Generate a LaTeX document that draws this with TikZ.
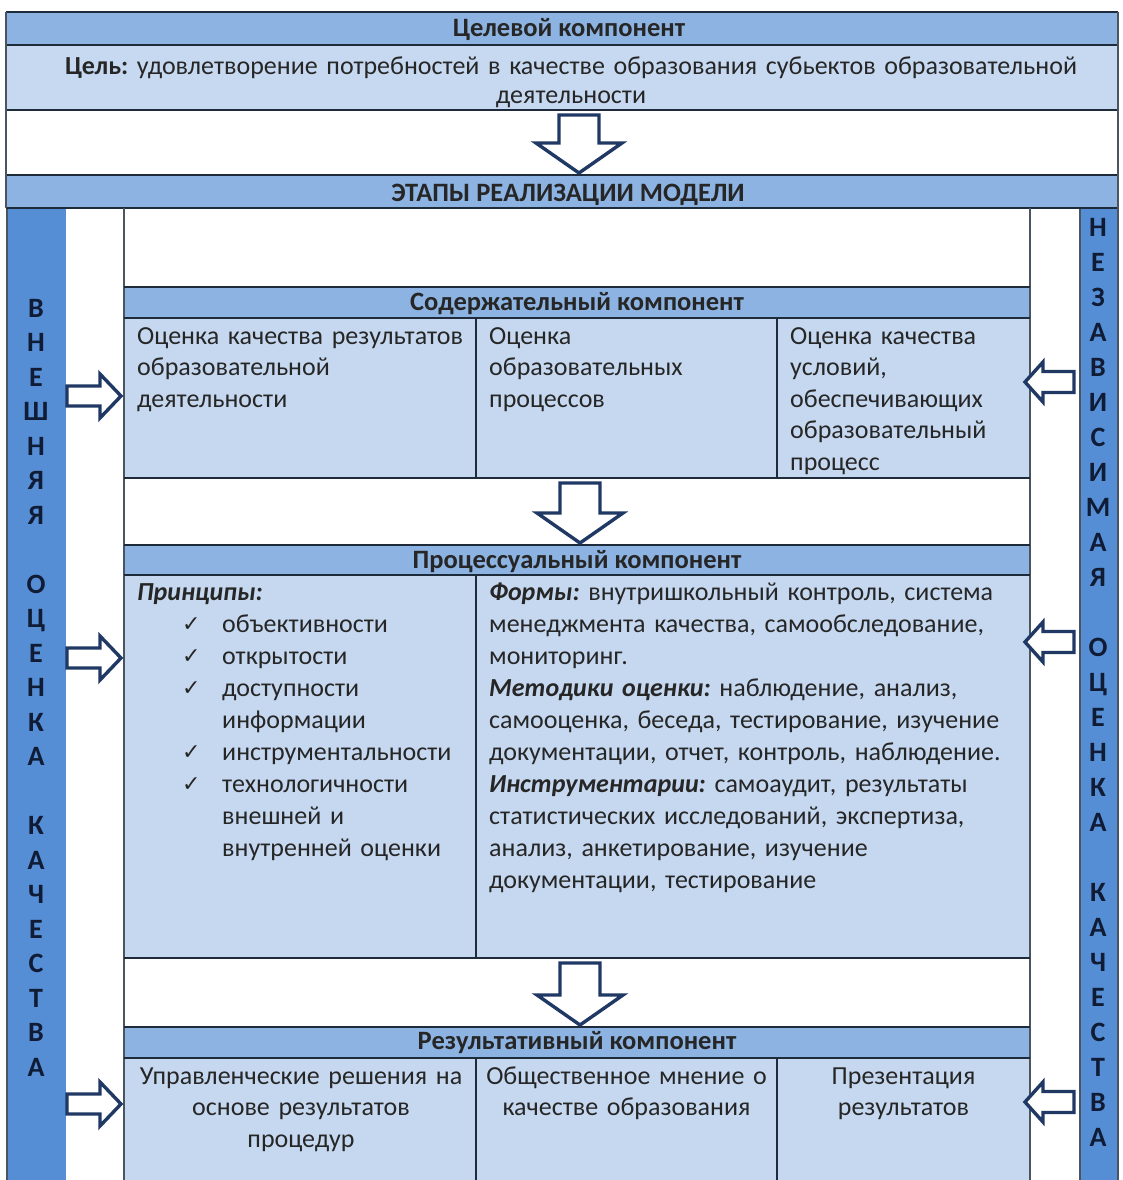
\documentclass[tikz,border=0pt]{standalone}
\usepackage{fontspec}
\setmainfont{Carlito}
\newfontfamily\checkfont{DejaVu Sans}
\frenchspacing
\definecolor{hdrblue}{HTML}{8DB3E2}
\definecolor{bandlight}{HTML}{C6D9F1}
\definecolor{cellblue}{HTML}{C5D8F0}
\definecolor{barblue}{HTML}{558ED5}
\definecolor{linecol}{HTML}{1E2B3A}
\definecolor{arrowcol}{HTML}{1F3864}
\definecolor{txtcol}{HTML}{262626}
\definecolor{bartxt}{HTML}{101C35}
\newcommand\blkdown[3]{\draw[blockarrow] (#1-20,#2) -- (#1+20,#2) -- (#1+20,#3-30) -- (#1+43,#3-30) -- (#1,#3) -- (#1-43,#3-30) -- (#1-20,#3-30) -- cycle;}
\newcommand\blkright[3]{\draw[blockarrow] (#1,#3-10) -- (#2-21,#3-10) -- (#2-21,#3-22) -- (#2,#3) -- (#2-21,#3+22) -- (#2-21,#3+10) -- (#1,#3+10) -- cycle;}
\newcommand\blkleft[3]{\draw[blockarrow] (#2,#3-10.5) -- (#1+18,#3-10.5) -- (#1+18,#3-20) -- (#1,#3) -- (#1+18,#3+20) -- (#1+18,#3+10.5) -- (#2,#3+10.5) -- cycle;}
\begin{document}
\begin{tikzpicture}[x=1pt,y=-1pt,
  rule/.style={draw=linecol, line width=1.6pt},
  vrule/.style={draw=linecol!80!white, line width=1.6pt},
  blockarrow/.style={draw=arrowcol, fill=white, line width=3.4pt, line join=miter},
  txt/.style={inner sep=0pt, text=txtcol, font=\fontsize{26}{31.5}\selectfont},
  hdrtxt/.style={inner sep=0pt, text=txtcol, font=\fontsize{26.5}{29}\selectfont\bfseries},
  bartext/.style={inner sep=0pt, text=bartxt, text width=40pt, align=center, font=\fontsize{28}{34.5}\selectfont\bfseries},
  chk/.style={inner sep=0pt, text=txtcol, font=\fontsize{22}{24}\selectfont\checkfont}]
\useasboundingbox (0,0) rectangle (1123,1180);
\fill[white] (0,0) rectangle (1123,1180);
% ---- top bands
\fill[hdrblue] (6,12) rectangle (1118,45);
\fill[bandlight] (6,45) rectangle (1118,110);
\fill[hdrblue] (6,175) rectangle (1118,208);
% ---- side bars
\fill[barblue] (7,208) rectangle (66,1180);
\fill[barblue] (1080,208) rectangle (1118,1180);
\draw[vrule] (7,208) -- (7,1180);
\draw[vrule] (1080,208) -- (1080,1180);
% ---- inner panels
\fill[hdrblue] (124,287) rectangle (1030,318);
\fill[cellblue] (124,318) rectangle (1030,478);
\fill[hdrblue] (124,545) rectangle (1030,575);
\fill[cellblue] (124,575) rectangle (1030,958);
\fill[hdrblue] (124,1027) rectangle (1030,1058);
\fill[cellblue] (124,1058) rectangle (1030,1180);
% ---- rules
\draw[rule] (6,12) -- (1118,12);
\draw[rule] (6,45) -- (1118,45);
\draw[rule] (6,110) -- (1118,110);
\draw[rule] (6,175) -- (1118,175);
\draw[rule] (6,208) -- (1118,208);
\draw[vrule] (6,12) -- (6,208);
\draw[vrule] (1118,12) -- (1118,1180);
\draw[vrule] (124,208) -- (124,1180);
\draw[vrule] (1030,208) -- (1030,1180);
\draw[rule] (124,287) -- (1030,287);
\draw[rule] (124,318) -- (1030,318);
\draw[rule] (124,478) -- (1030,478);
\draw[rule] (476,318) -- (476,478);
\draw[rule] (777,318) -- (777,478);
\draw[rule] (124,545) -- (1030,545);
\draw[rule] (124,575) -- (1030,575);
\draw[rule] (124,958) -- (1030,958);
\draw[rule] (476,575) -- (476,958);
\draw[rule] (124,1027) -- (1030,1027);
\draw[rule] (124,1058) -- (1030,1058);
\draw[rule] (476,1058) -- (476,1180);
\draw[rule] (777,1058) -- (777,1180);
% ---- texts: top
\node[hdrtxt, anchor=base] (goalhdr) at (569,37) {Целевой компонент};
\node[txt, anchor=base, text width=1080pt, align=center, font=\fontsize{26}{29}\selectfont] (goal) at (571,75)
  {\textbf{Цель:} удовлетворение потребностей в качестве образования субьектов образовательной\\деятельности};
\node[hdrtxt, anchor=base] (stages) at (568,201) {ЭТАПЫ РЕАЛИЗАЦИИ МОДЕЛИ};
% ---- content component
\node[hdrtxt, anchor=base] (contenthdr) at (577,310) {Содержательный компонент};
\node[txt, anchor=base west, text width=335pt, align=left] (c1) at (137,344)
  {Оценка качества результатов\\образовательной\\деятельности};
\node[txt, anchor=base west, text width=280pt, align=left] (c2) at (489,344)
  {Оценка\\образовательных\\процессов};
\node[txt, anchor=base west, text width=235pt, align=left] (c3) at (790,344)
  {Оценка качества\\условий,\\обеспечивающих\\образовательный\\процесс};
% ---- process component
\node[hdrtxt, anchor=base] (prochdr) at (577,568) {Процессуальный компонент};
\node[txt, anchor=base west] (princ) at (137,600) {\textbf{\textit{Принципы:}}};
\node[txt, anchor=base west, text width=250pt, align=left, font=\fontsize{26}{32}\selectfont] (plist) at (222,632)
  {объективности\\открытости\\доступности\\информации\\инструментальности\\технологичности\\внешней и\\внутренней оценки};
\node[chk, anchor=base west] (k1) at (182,631) {✓};
\node[chk, anchor=base west] (k2) at (182,663) {✓};
\node[chk, anchor=base west] (k3) at (182,695) {✓};
\node[chk, anchor=base west] (k4) at (182,759) {✓};
\node[chk, anchor=base west] (k5) at (182,791) {✓};
\node[txt, anchor=base west, text width=540pt, align=left, font=\fontsize{26}{32}\selectfont] (forms) at (489,600)
  {\textbf{\textit{Формы:}} внутришкольный контроль, система\\
   менеджмента качества, самообследование,\\
   мониторинг.\\
   \textbf{\textit{Методики оценки:}} наблюдение, анализ,\\
   самооценка, беседа, тестирование, изучение\\
   документации, отчет, контроль, наблюдение.\\
   \textbf{\textit{Инструментарии:}} самоаудит, результаты\\
   статистических исследований, экспертиза,\\
   анализ, анкетирование, изучение\\
   документации, тестирование};
% ---- result component
\node[hdrtxt, anchor=base] (reshdr) at (577,1049) {Результативный компонент};
\node[txt, anchor=base, text width=345pt, align=center] (r1) at (301,1084)
  {Управленческие решения на\\основе результатов\\процедур};
\node[txt, anchor=base, text width=295pt, align=center] (r2) at (626.5,1084)
  {Общественное мнение о\\качестве образования};
\node[txt, anchor=base, text width=245pt, align=center] (r3) at (903.5,1084)
  {Презентация\\результатов};
% ---- side bar texts
\node[bartext, anchor=base] (outer) at (36,317)
  {В\\Н\\Е\\Ш\\Н\\Я\\Я\\[34.5pt]О\\Ц\\Е\\Н\\К\\А\\[34.5pt]К\\А\\Ч\\Е\\С\\Т\\В\\А};
\node[bartext, anchor=base, font=\fontsize{28}{35}\selectfont\bfseries] (indep) at (1098,236)
  {Н\\Е\\З\\А\\В\\И\\С\\И\\М\\А\\Я\\[35pt]О\\Ц\\Е\\Н\\К\\А\\[35pt]К\\А\\Ч\\Е\\С\\Т\\В\\А};
% ---- block arrows
\blkdown{579}{115}{173}
\blkdown{580}{483}{543}
\blkdown{580}{963}{1025}
\blkright{67}{121}{396}
\blkright{67}{121}{658}
\blkright{67}{121}{1104}
\blkleft{1025}{1074}{382}
\blkleft{1025}{1074}{642}
\blkleft{1025}{1074}{1102}
\end{tikzpicture}
\end{document}
